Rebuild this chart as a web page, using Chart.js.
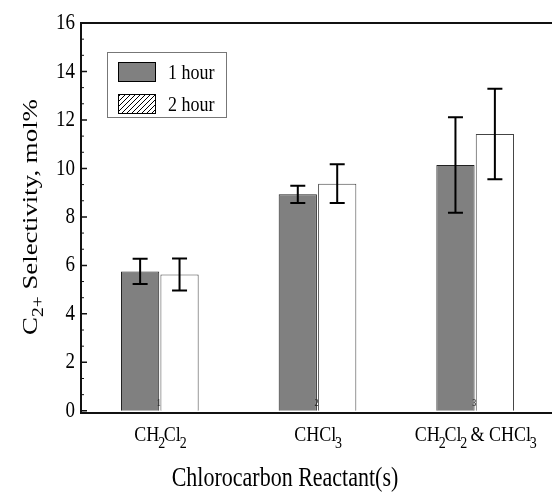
<!DOCTYPE html>
<html>
<head>
<meta charset="utf-8">
<script src="https://cdn.jsdelivr.net/npm/chart.js@4.4.0/dist/chart.umd.min.js"></script>
<style>
  html, body { margin: 0; padding: 0; background: #fff; overflow: hidden; }
  #wrap { width: 554px; height: 504px; }
</style>
</head>
<body>
<div id="wrap"><canvas id="selChart"></canvas></div>
<script>
// donnees
const categories = ['CH2Cl2', 'CHCl3', 'CH2Cl2 & CHCl3'];
const hour1 = [5.75, 8.93, 10.14];
const hour1Err = [0.52, 0.36, 1.97];
const hour2 = [5.62, 9.37, 11.42];
const hour2Err = [0.66, 0.8, 1.87];
const yTicks = [0, 2, 4, 6, 8, 10, 12, 14, 16];
const seriesNames = ['1 hour', '2 hour'];
const barNumbers = ['1', '2', '3'];

const FONT = '"Liberation Serif", "Times New Roman", serif';
const STRETCH = 1.22; // la figure d'origine est etiree verticalement

// motif hachure pour la legende
function hatchPattern(ctx) {
    const c = document.createElement('canvas');
    c.width = 5; c.height = 5;
    const g = c.getContext('2d');
    g.fillStyle = '#fff';
    g.fillRect(0, 0, 5, 5);
    g.strokeStyle = '#000';
    g.lineWidth = 1;
    g.beginPath();
    g.moveTo(0, 5); g.lineTo(5, 0);
    g.moveTo(-1, 1); g.lineTo(1, -1);
    g.moveTo(4, 6); g.lineTo(6, 4);
    g.stroke();
    return ctx.createPattern(c, 'repeat');
}

// texte etire verticalement
function tallText(ctx, text, x, y) {
    ctx.save();
    ctx.translate(x, y);
    ctx.scale(1, STRETCH);
    ctx.fillText(text, 0, 0);
    ctx.restore();
}

// texte avec chiffres en indice (CH2Cl2 ...)
function drawSubText(ctx, text, x, y, size) {
    const parts = [];
    for (const ch of text) {
        const sub = /[0-9]/.test(ch);
        if (parts.length && parts[parts.length - 1].sub === sub) parts[parts.length - 1].t += ch;
        else parts.push({ t: ch, sub: sub });
    }
    const subSize = Math.round(size * 0.75);
    let total = 0;
    parts.forEach(p => {
        ctx.font = (p.sub ? subSize : size) + 'px ' + FONT;
        p.w = ctx.measureText(p.t).width * (p.sub ? 0.65 : 1);
        total += p.w;
    });
    let cx = x - total / 2;
    ctx.textAlign = 'left';
    ctx.textBaseline = 'alphabetic';
    parts.forEach(p => {
        ctx.font = (p.sub ? subSize : size) + 'px ' + FONT;
        tallText(ctx, p.t, cx - (p.sub ? p.w * 0.25 : 0), y + (p.sub ? size * 0.38 : 0));
        cx += p.w;
    });
}

const decorPlugin = {
    id: 'decor',
    afterDatasetsDraw(chart) {
        const ctx = chart.ctx;
        const area = chart.chartArea;
        const xs = chart.scales.x;
        const ys = chart.scales.y;
        ctx.save();

        // barres d'erreur
        const errs = [hour1Err, hour2Err];
        chart.data.datasets.forEach((ds, di) => {
            const meta = chart.getDatasetMeta(di);
            meta.data.forEach((bar, i) => {
                const v = ds.data[i];
                const yTop = ys.getPixelForValue(v + errs[di][i]);
                const yBot = ys.getPixelForValue(v - errs[di][i]);
                ctx.strokeStyle = '#000';
                ctx.lineWidth = 2;
                ctx.beginPath();
                ctx.moveTo(bar.x, yTop); ctx.lineTo(bar.x, yBot);
                ctx.moveTo(bar.x - 7.5, yTop); ctx.lineTo(bar.x + 7.5, yTop);
                ctx.moveTo(bar.x - 7.5, yBot); ctx.lineTo(bar.x + 7.5, yBot);
                ctx.stroke();
            });
        });

        // petits numeros en bas des barres
        ctx.fillStyle = '#222';
        ctx.font = '8px ' + FONT;
        ctx.textAlign = 'center';
        ctx.textBaseline = 'middle';
        barNumbers.forEach((n, i) => {
            tallText(ctx, n, xs.getPixelForValue(i) - 1, ys.getPixelForValue(0.3));
        });

        // cadre
        ctx.strokeStyle = '#111';
        ctx.lineWidth = 2;
        ctx.beginPath();
        ctx.moveTo(area.left, area.top);
        ctx.lineTo(area.right, area.top);
        ctx.lineTo(area.right, area.bottom);
        ctx.lineTo(area.left, area.bottom);
        ctx.closePath();
        ctx.stroke();

        // graduations
        ctx.lineWidth = 1.5;
        ctx.beginPath();
        yTicks.forEach(t => {
            const py = ys.getPixelForValue(t);
            ctx.moveTo(area.left, py); ctx.lineTo(area.left + 6, py);
        });
        ctx.stroke();
        ctx.lineWidth = 1;
        ctx.beginPath();
        for (let k = 0; k < yTicks.length - 1; k++) {
            for (let m = 1; m < 3; m++) {
                const py = ys.getPixelForValue(yTicks[k] + m * (yTicks[k + 1] - yTicks[k]) / 3);
                ctx.moveTo(area.left, py); ctx.lineTo(area.left + 3, py);
            }
        }
        ctx.stroke();

        // etiquettes y
        ctx.fillStyle = '#000';
        ctx.font = '19px ' + FONT;
        ctx.textAlign = 'right';
        ctx.textBaseline = 'middle';
        yTicks.forEach(t => {
            tallText(ctx, String(t), area.left - 6, ys.getPixelForValue(t));
        });

        // etiquettes x
        categories.forEach((c, i) => {
            drawSubText(ctx, c, xs.getPixelForValue(i), 441, 18);
        });

        // titre x
        ctx.font = '22px ' + FONT;
        ctx.textAlign = 'center';
        ctx.textBaseline = 'alphabetic';
        tallText(ctx, 'Chlorocarbon Reactant(s)', 285, 486);

        // titre y
        ctx.save();
        ctx.translate(37, 217);
        ctx.rotate(-Math.PI / 2);
        ctx.scale(STRETCH, 1);
        const s = 22, ss = 16;
        ctx.font = s + 'px ' + FONT;
        const wC = ctx.measureText('C').width;
        ctx.font = ss + 'px ' + FONT;
        const wSub = ctx.measureText('2+').width;
        ctx.font = s + 'px ' + FONT;
        const rest = ' Selectivity, mol%';
        const wRest = ctx.measureText(rest).width;
        const total = wC + wSub + wRest;
        let x0 = -total / 2;
        ctx.textAlign = 'left';
        ctx.fillText('C', x0, 0);
        ctx.font = ss + 'px ' + FONT;
        ctx.fillText('2+', x0 + wC, 6);
        ctx.font = s + 'px ' + FONT;
        ctx.fillText(rest, x0 + wC + wSub, 0);
        ctx.restore();

        // legende
        const lx = area.left + 26, ly = area.top + 29;
        ctx.strokeStyle = '#777';
        ctx.lineWidth = 1;
        ctx.strokeRect(lx + 0.5, ly + 0.5, 119, 65);
        const fills = ['#808080', hatchPattern(ctx)];
        seriesNames.forEach((name, i) => {
            const by = ly + 10 + i * 32;
            ctx.fillStyle = fills[i];
            ctx.fillRect(lx + 11, by, 38, 20);
            ctx.strokeStyle = '#000';
            ctx.strokeRect(lx + 11.5, by + 0.5, 37, 19);
            ctx.fillStyle = '#000';
            ctx.font = '18px ' + FONT;
            ctx.textAlign = 'left';
            ctx.textBaseline = 'middle';
            tallText(ctx, name, lx + 61, by + 11);
        });

        ctx.restore();
    }
};

const ctx = document.getElementById('selChart').getContext('2d');
const selChart = new Chart(ctx, {
    type: 'bar',
    data: {
        labels: categories,
        datasets: [
            {
                label: seriesNames[0],
                data: hour1,
                backgroundColor: '#808080',
                borderColor: '#222',
                borderWidth: 1,
                barPercentage: 0.97,
                categoryPercentage: 0.5
            },
            {
                label: seriesNames[1],
                data: hour2,
                backgroundColor: '#ffffff',
                borderColor: '#444',
                borderWidth: 1,
                barPercentage: 0.97,
                categoryPercentage: 0.5
            }
        ]
    },
    options: {
        responsive: true,
        maintainAspectRatio: false,
        animation: false,
        layout: { padding: { top: 23, left: 0, right: 0, bottom: 0 } },
        plugins: {
            legend: { display: false },
            tooltip: { enabled: false }
        },
        scales: {
            x: {
                grid: { display: false },
                border: { display: false },
                ticks: { display: false },
                afterFit: scale => { scale.height = 91; }
            },
            y: {
                min: -0.09,
                max: 16,
                grid: { display: false },
                border: { display: false },
                afterBuildTicks: scale => { scale.ticks = yTicks.map(v => ({ value: v })); },
                ticks: { display: false },
                afterFit: scale => { scale.width = 81; }
            }
        }
    },
    plugins: [decorPlugin]
});
</script>
</body>
</html>
